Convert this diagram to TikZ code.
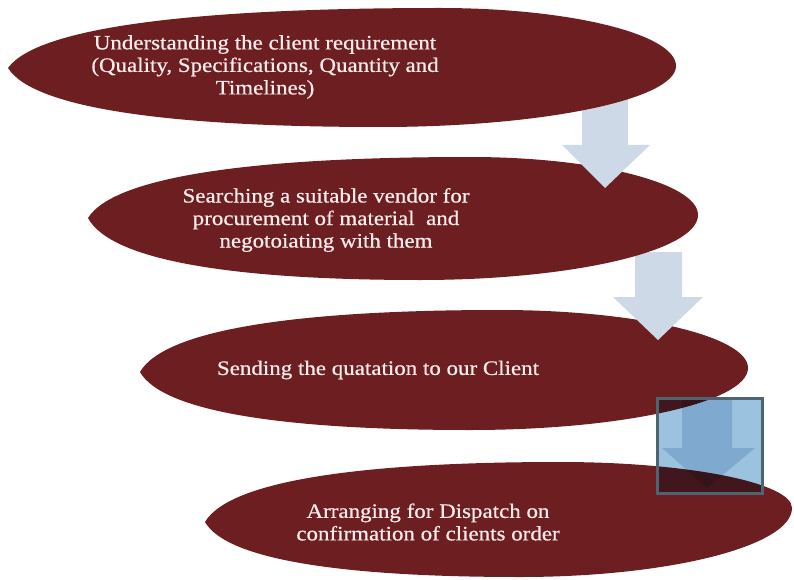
\documentclass[tikz,border=0pt]{standalone}
\usepackage{fontspec}
\setmainfont{Liberation Serif}[FakeStretch=1.12, FakeBold=0.6]
\usepackage{tikz}
\usetikzlibrary{calc}

\definecolor{stepred}{RGB}{108,30,32}
\definecolor{steptext}{RGB}{250,236,236}
\definecolor{arrowgray}{RGB}{206,217,231}
\definecolor{boxedge}{RGB}{78,100,112}
\definecolor{boxfill}{RGB}{155,195,224}
\definecolor{boxarrow}{RGB}{209,222,235}

% leaf: left tip, top point, right end, bottom point
\newcommand{\leafpath}[8]{%
  (#1,#2) .. controls ({#1+0.07*(#3-#1)},{#2-0.7*(#2-#4)}) and ({#1+0.45*(#3-#1)},#4) .. (#3,#4)
  .. controls ({#3+0.55*(#7-#3)},#4) and (#7,{#8-0.55*(#8-#4)}) .. (#7,#8)
  .. controls (#7,{#8+0.55*(#6-#8)}) and ({#5+0.55*(#7-#5)},#6) .. (#5,#6)
  .. controls ({#1+0.45*(#5-#1)},#6) and ({#1+0.07*(#5-#1)},{#2+0.7*(#6-#2)}) .. (#1,#2) -- cycle}

\begin{document}
\begin{tikzpicture}[x=1pt, y=-1pt,
    stepfill/.style={fill=stepred},
    steplabel/.style={text=steptext, align=center, inner sep=0pt,
      font=\fontsize{20.5}{22.5}\selectfont},
    blockarrow/.style={fill=arrowgray}]

    %% Background
    \useasboundingbox (0,0) rectangle (794,580);

    % Step 4
    \fill[stepfill] \leafpath{205}{522}{560}{462}{520}{577}{792}{508};

    % Step 3
    \fill[stepfill] \leafpath{140}{372}{500}{310}{470}{430}{748}{368};

    % Selected arrow 3 -> 4
    \fill[boxfill, blend mode=multiply] (657,398) rectangle (762,493);
    \fill[boxarrow, blend mode=multiply]
    (682,400) -- (732,400) -- (732,448) -- (755,448) -- (707,488)
    -- (662,448) -- (682,448) -- cycle;
    \draw[boxedge, line width=3pt] (657,398) rectangle (762,493);

    % Arrow 2 -> 3
    \fill[blockarrow]
    (635,252) -- (682,252) -- (682,297) -- (703,297) -- (658,340)
    -- (613,297) -- (635,297) -- cycle;

    % Step 2
    \fill[stepfill] \leafpath{88}{218}{470}{157}{420}{280}{698}{215};

    % Arrow 1 -> 2
    \fill[blockarrow]
    (582,98) -- (628,98) -- (628,145) -- (650,145) -- (605,188)
    -- (562,145) -- (582,145) -- cycle;

    % Step 1
    \fill[stepfill] \leafpath{8}{68}{440}{8}{380}{127}{676}{66};

    % Labels
    \node[steplabel] (requirement) at (265,67)
    {Understanding the client requirement\\(Quality, Specifications, Quantity and\\Timelines)};
    \node[steplabel] (vendor) at (326,220)
    {Searching a suitable vendor for\\procurement of material~ and\\negotoiating with them};
    \node[steplabel] (quotation) at (378,370)
    {Sending the quatation to our Client};
    \node[steplabel] (dispatch) at (428,522)
    {Arranging for Dispatch on\\confirmation of clients order};

\end{tikzpicture}
\end{document}
